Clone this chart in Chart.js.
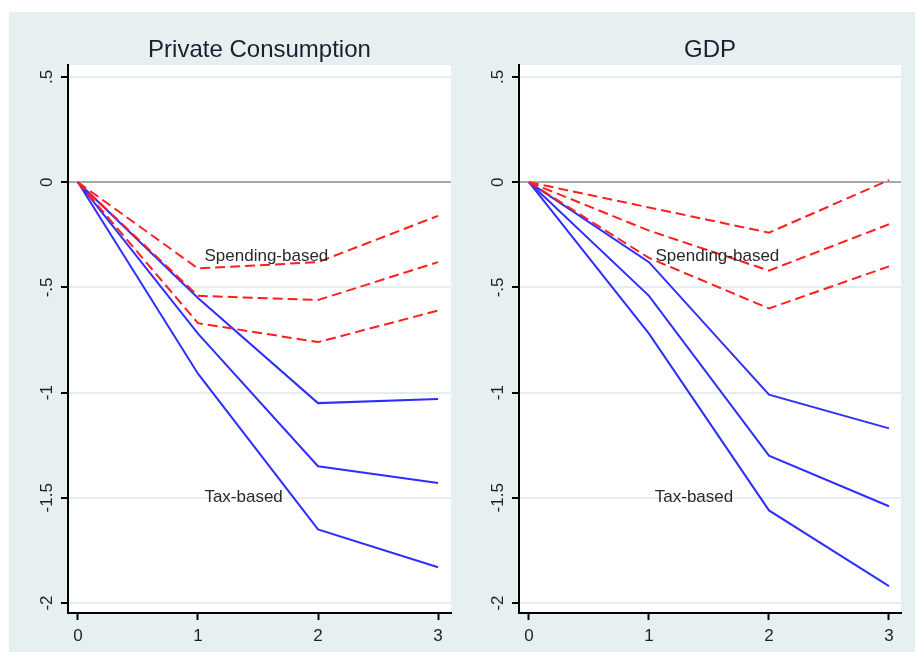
<!DOCTYPE html>
<html>
<head>
<meta charset="utf-8">
<script src="https://cdn.jsdelivr.net/npm/chart.js@4.4.0/dist/chart.umd.min.js"></script>
<style>
  html, body { margin: 0; padding: 0; background: #fff; }
  body { width: 920px; height: 652px; position: relative; overflow: hidden; }
  #panelBg { position: absolute; left: 9px; top: 12px; width: 906px; height: 640px; background: #e7f0f1; }
  #consChart { position: absolute; left: 9px; top: 12px; }
  #gdpChart { position: absolute; left: 453px; top: 12px; }
</style>
</head>
<body>
<div id="panelBg"></div>
<canvas id="consChart" width="444" height="640"></canvas>
<canvas id="gdpChart" width="462" height="640"></canvas>
<script>
const periods = [0, 1, 2, 3];
const xTicks = [0, 1, 2, 3];
const yTicks = [0.5, 0, -0.5, -1, -1.5, -2];
const yTickLabels = ['.5', '0', '-.5', '-1', '-1.5', '-2'];

// Private consumption
const consSpendHigh = [0, -0.41, -0.38, -0.16];
const consSpendMid  = [0, -0.54, -0.56, -0.38];
const consSpendLow  = [0, -0.67, -0.76, -0.61];
const consTaxHigh   = [0, -0.55, -1.05, -1.03];
const consTaxMid    = [0, -0.72, -1.35, -1.43];
const consTaxLow    = [0, -0.91, -1.65, -1.83];

// GDP
const gdpSpendHigh = [0, -0.12, -0.24, 0.01];
const gdpSpendMid  = [0, -0.23, -0.42, -0.20];
const gdpSpendLow  = [0, -0.36, -0.60, -0.40];
const gdpTaxHigh   = [0, -0.38, -1.01, -1.17];
const gdpTaxMid    = [0, -0.54, -1.30, -1.54];
const gdpTaxLow    = [0, -0.72, -1.56, -1.92];

const FONT = '"Liberation Sans", Arial, Helvetica, sans-serif';
const TEXT = '#1e1e30';

function toPoints(vals) {
    return periods.map((p, i) => ({ x: p, y: vals[i] }));
}

function spendLine(vals) {
    return { data: toPoints(vals), borderColor: '#ff1f1f', borderWidth: 2, borderDash: [10, 5],
             pointRadius: 0, fill: false, tension: 0 };
}

function taxLine(vals) {
    return { data: toPoints(vals), borderColor: '#2e2eff', borderWidth: 2,
             pointRadius: 0, fill: false, tension: 0 };
}

// white plot region, title, rotated y labels, text notes
const stataDecor = {
    id: 'stataDecor',
    beforeDraw(chart) {
        const a = chart.chartArea;
        const ctx = chart.ctx;
        ctx.save();
        ctx.fillStyle = '#fff';
        ctx.fillRect(a.left, a.top, a.right - a.left, a.bottom - a.top);
        ctx.restore();
    },
    afterDraw(chart, args, opts) {
        const a = chart.chartArea;
        const ctx = chart.ctx;
        const xs = chart.scales.x;
        const ys = chart.scales.y;
        ctx.save();
        ctx.fillStyle = TEXT;
        ctx.textAlign = 'center';
        ctx.textBaseline = 'middle';

        ctx.font = '24px ' + FONT;
        ctx.fillText(opts.title, (a.left + a.right) / 2, 38);

        ctx.font = '17px ' + FONT;
        yTicks.forEach((v, i) => {
            ctx.save();
            ctx.translate(a.left - 21, ys.getPixelForValue(v));
            ctx.rotate(-Math.PI / 2);
            ctx.fillText(yTickLabels[i], 0, 0);
            ctx.restore();
        });

        ctx.font = '17px ' + FONT;
        ctx.fillStyle = '#2a2a2a';
        opts.notes.forEach(n => {
            ctx.fillText(n.text, xs.getPixelForValue(n.x), ys.getPixelForValue(n.y));
        });
        ctx.restore();
    }
};

function makeChart(id, title, spend, tax, axisWidth, xMax, padRight, notes) {
    const ctx = document.getElementById(id).getContext('2d');
    return new Chart(ctx, {
        type: 'line',
        data: {
            datasets: [
                ...spend.map(spendLine),
                ...tax.map(taxLine)
            ]
        },
        options: {
            responsive: false,
            animation: false,
            layout: { padding: { top: 53, right: padRight, left: 0, bottom: 0 } },
            plugins: {
                legend: { display: false },
                tooltip: { enabled: false },
                stataDecor: { title, notes }
            },
            scales: {
                x: {
                    type: 'linear',
                    min: -0.083,
                    max: xMax,
                    afterBuildTicks: s => { s.ticks = xTicks.map(v => ({ value: v })); },
                    afterFit: s => { s.height = 39; },
                    grid: { drawOnChartArea: false, drawTicks: true, tickLength: 7, tickColor: '#000', tickWidth: 2 },
                    border: { display: true, color: '#000', width: 2 },
                    ticks: { color: TEXT, font: { size: 17, family: FONT }, padding: 6, maxRotation: 0 }
                },
                y: {
                    type: 'linear',
                    min: -2.0475,
                    max: 0.557,
                    afterBuildTicks: s => { s.ticks = yTicks.map(v => ({ value: v })); },
                    afterFit: s => { s.width = axisWidth; },
                    grid: {
                        color: c => (c.tick && c.tick.value === 0) ? '#a3aaaa' : '#e3eeee',
                        lineWidth: 2,
                        drawTicks: true,
                        tickLength: 7,
                        tickColor: '#000',
                        tickWidth: 2
                    },
                    border: { display: true, color: '#000', width: 2 },
                    ticks: { display: false }
                }
            }
        },
        plugins: [stataDecor]
    });
}

makeChart('consChart', 'Private Consumption',
    [consSpendHigh, consSpendMid, consSpendLow],
    [consTaxHigh, consTaxMid, consTaxLow],
    59, 3.108, 2,
    [{ text: 'Spending-based', x: 1.57, y: -0.35 }, { text: 'Tax-based', x: 1.38, y: -1.5 }]);

makeChart('gdpChart', 'GDP',
    [gdpSpendHigh, gdpSpendMid, gdpSpendLow],
    [gdpTaxHigh, gdpTaxMid, gdpTaxLow],
    66, 3.1, 14,
    [{ text: 'Spending-based', x: 1.57, y: -0.35 }, { text: 'Tax-based', x: 1.375, y: -1.5 }]);
</script>
</body>
</html>
